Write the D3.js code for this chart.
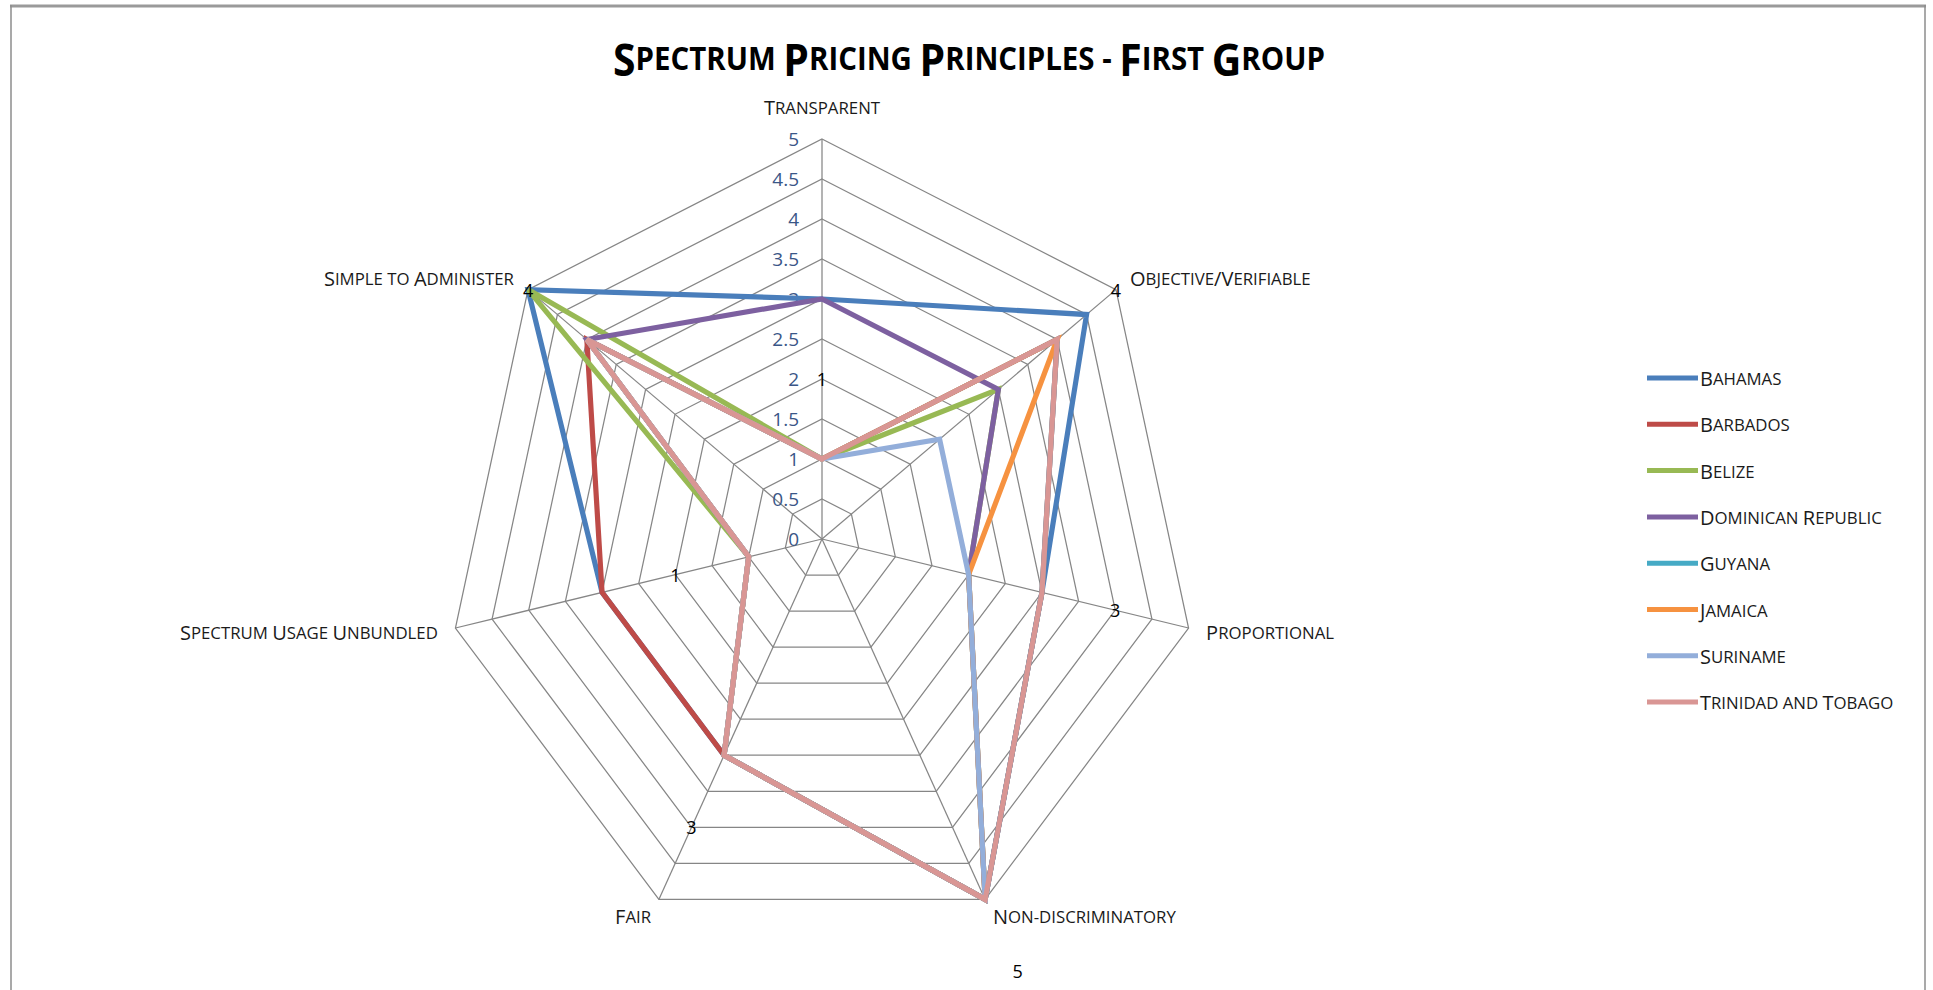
<!DOCTYPE html>
<html><head><meta charset="utf-8">
<script src="https://cdn.jsdelivr.net/npm/d3@7"></script>
<style>
html,body{margin:0;padding:0;background:#fff;}
svg{display:block;}
text{font-family:"Open Sans","DejaVu Sans",sans-serif;}
</style></head><body>
<svg id="chart" width="1933" height="990"></svg>
<script>
// ---------- data ----------
const categories = ["Transparent","Objective/Verifiable","Proportional","Non-discriminatory","Fair","Spectrum Usage Unbundled","Simple to Administer"];
const seriesNames = ["Bahamas","Barbados","Belize","Dominican Republic","Guyana","Jamaica","Suriname","Trinidad and Tobago"];
const bahamas = [3,4.5,3,5,3,3,5];
const barbados = [1,4,3,5,3,3,4];
const belize = [1,3,2,5,3,1,5];
const dominicanRepublic = [3,3,2,5,3,1,4];
const guyana = [1,4,3,5,3,1,4];
const jamaica = [1,4,2,5,3,1,4];
const suriname = [1,2,2,5,3,1,4];
const trinidadAndTobago = [1,4,3,5,3,1,4];
const seriesColors = ["#4A7EBB","#BE4B48","#98B954","#7D60A0","#46AAC5","#F69240","#93AEDA","#D99694"];
const tickValues = [0,0.5,1,1.5,2,2.5,3,3.5,4,4.5,5];
const tickLabels = ["0","0.5","1","1.5","2","2.5","3","3.5","4","4.5","5"];
const chartTitle = "Spectrum Pricing Principles - First Group";
const labelledSeries = 7; // data labels shown for Trinidad and Tobago

const seriesValues = [bahamas,barbados,belize,dominicanRepublic,guyana,jamaica,suriname,trinidadAndTobago];

// ---------- layout ----------
const svg = d3.select("#chart");
const cx = 822, cy = 539;
const maxV = 5;
const ry = d3.scaleLinear().domain([0,maxV]).range([0,400]);
const rx = d3.scaleLinear().domain([0,maxV]).range([0,376]);
const angle = d3.scaleLinear().domain([0,categories.length]).range([0,2*Math.PI]);
const pt = (i,v) => [cx + Math.sin(angle(i))*rx(v), cy - Math.cos(angle(i))*ry(v)];

// border
svg.append("line").attr("x1",10).attr("x2",1926).attr("y1",6).attr("y2",6).attr("stroke","#9a9a9a").attr("stroke-width",3);
svg.append("line").attr("x1",11).attr("x2",11).attr("y1",5).attr("y2",990).attr("stroke","#8c8c8c").attr("stroke-width",1.5);
svg.append("line").attr("x1",1925).attr("x2",1925).attr("y1",5).attr("y2",990).attr("stroke","#8c8c8c").attr("stroke-width",1.5);

function smallCaps(textSel, str, size, ratio) {
  const runs = [];
  for (const ch of str) {
    const big = /[A-Z\/]/.test(ch);
    const last = runs[runs.length-1];
    if (last && last.big === big) last.s += ch; else runs.push({big, s: ch});
  }
  textSel.selectAll("tspan").data(runs).join("tspan")
    .attr("font-size", d => d.big ? size : size*ratio)
    .text(d => d.s.toUpperCase());
  return textSel;
}

// title (condensed by a horizontal scale to the reference width)
const titleG = svg.append("g");
const tt = titleG.append("text").attr("x",0).attr("y",0)
  .attr("text-anchor","middle").attr("dominant-baseline","central")
  .attr("font-weight","bold").attr("fill","#000");
smallCaps(tt, chartTitle, 44, 0.72);
const tw = tt.node().getComputedTextLength();
titleG.attr("transform",`translate(969,58) scale(${712/tw},1)`);

// grid rings
const ringLine = d3.line().curve(d3.curveLinearClosed);
const g = svg.append("g");
g.selectAll("path.ring").data(tickValues.filter(v=>v>0)).join("path")
  .attr("class","ring")
  .attr("d", v => ringLine(categories.map((c,i)=>pt(i,v))))
  .attr("fill","none").attr("stroke","#868686").attr("stroke-width",1.25);
g.selectAll("line.spoke").data(categories).join("line")
  .attr("class","spoke")
  .attr("x1",cx).attr("y1",cy)
  .attr("x2",(c,i)=>pt(i,maxV)[0]).attr("y2",(c,i)=>pt(i,maxV)[1])
  .attr("stroke","#868686").attr("stroke-width",1.25);

// tick labels
svg.append("g").selectAll("text").data(tickValues).join("text")
  .attr("x", cx - 23).attr("y", v => cy - ry(v))
  .attr("text-anchor","end").attr("dominant-baseline","central")
  .attr("font-size",19).attr("fill","#3A5687")
  .text((v,i)=>tickLabels[i]);

// category labels
const catG = svg.append("g");
categories.forEach((c,i) => {
  const a = angle(i);
  const s = Math.sin(a), co = Math.cos(a);
  const [vx,vy] = pt(i,maxV);
  const pad = 18;
  let x = vx + s*pad, y = vy - co*pad;
  let anchor = "middle";
  if (Math.abs(s) < 0.1) { y -= 14; } else anchor = s > 0 ? "start" : "end";
  const t = catG.append("text").attr("x",x).attr("y",y)
    .attr("text-anchor",anchor).attr("dominant-baseline","central")
    .attr("fill","#1a1a1a");
  smallCaps(t, c, 20, 0.84);
});

// series lines
const seriesLine = d3.line().curve(d3.curveLinearClosed);
svg.append("g").selectAll("path").data(seriesValues).join("path")
  .attr("d", vals => seriesLine(vals.map((v,i)=>pt(i,v))))
  .attr("fill","none")
  .attr("stroke",(d,i)=>seriesColors[i])
  .attr("stroke-width",5.2)
  .attr("stroke-linejoin","miter");

// data labels (placed one unit outward along each axis)
svg.append("g").selectAll("text").data(seriesValues[labelledSeries]).join("text")
  .attr("x",(v,i)=>pt(i,v+1)[0]).attr("y",(v,i)=>pt(i,v+1)[1])
  .attr("text-anchor","middle").attr("dominant-baseline","central")
  .attr("font-size",18).attr("fill","#000")
  .text(v=>v);

// legend
const leg = svg.append("g").attr("transform","translate(1647,378)");
const items = leg.selectAll("g").data(seriesNames).join("g")
  .attr("transform",(d,i)=>`translate(0,${i*46.3})`);
items.append("line").attr("x1",0).attr("x2",51).attr("y1",0).attr("y2",0)
  .attr("stroke",(d,i)=>seriesColors[i]).attr("stroke-width",5);
items.each(function(d){
  const t = d3.select(this).append("text").attr("x",53).attr("y",0)
    .attr("dominant-baseline","central").attr("fill","#1a1a1a");
  smallCaps(t, d, 20, 0.84);
});
</script>
</body></html>
